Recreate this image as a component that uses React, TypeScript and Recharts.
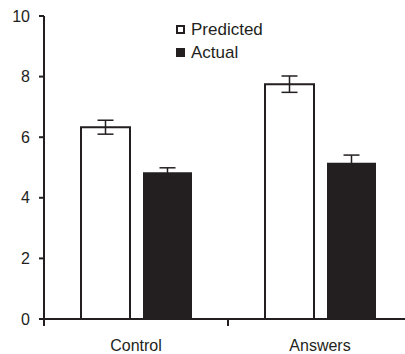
import { BarChart, Bar, XAxis, YAxis, ErrorBar, Legend } from "recharts"

const categories = ["Control", "Answers"]
const predicted = [6.33, 7.75]
const predictedErr = [0.23, 0.27]
const actual = [4.84, 5.16]
const actualErr = [0.15, 0.25]
const yTicks = [0, 2, 4, 6, 8, 10]

const INK = "#231f20"
const FONT = "'Liberation Sans', Arial, sans-serif"
const X_TICK_SIZE = 6
const X_TICK_MARGIN = 15

const data = categories.map((name, i) => ({
  name,
  predicted: predicted[i],
  predictedErr: predictedErr[i],
  actual: actual[i],
  actualErr: actualErr[i]
}))

// category label plus tick marks on the band edges (not the centres)
function CategoryTick(props: any) {
  const { x, y, payload, index, visibleTicksCount } = props
  const axisY = y - X_TICK_SIZE - X_TICK_MARGIN
  const half = payload.offset || 0
  const isLast = index === visibleTicksCount - 1
  return (
    <g>
      <line x1={x - half} x2={x - half} y1={axisY} y2={axisY + 7} stroke={INK} strokeWidth={2} />
      {isLast && (
        <line x1={x + half} x2={x + half} y1={axisY} y2={axisY + 7} stroke={INK} strokeWidth={2} />
      )}
      <text
        x={x}
        y={y}
        dy="0.71em"
        textAnchor="middle"
        fill={INK}
        fontSize={16}
        fontFamily={FONT}
      >
        {payload.value}
      </text>
    </g>
  )
}

function LegendBox() {
  const row = (filled: boolean, label: string) => (
    <div style={{ display: "flex", alignItems: "center", height: 23 }}>
      <span
        style={{
          width: 9,
          height: 9,
          boxSizing: "border-box",
          border: `2px solid ${INK}`,
          background: filled ? INK : "#fff",
          marginRight: 6
        }}
      />
      <span style={{ fontSize: 17, color: INK, fontFamily: FONT }}>{label}</span>
    </div>
  )
  return (
    <div>
      {row(false, "Predicted")}
      {row(true, "Actual")}
    </div>
  )
}

export default function App() {
  return (
    <div
      style={{
        position: "absolute",
        left: 0,
        top: 0,
        width: 405,
        height: 354,
        overflow: "hidden",
        background: "#fff"
      }}
    >
      <BarChart
        width={412}
        height={354}
        data={data}
        margin={{ top: 16, right: 0, bottom: 0, left: 0 }}
        barSize={49}
        barGap={13}
      >
        <XAxis
          dataKey="name"
          height={35}
          axisLine={{ stroke: INK, strokeWidth: 2 }}
          tickLine={false}
          tickSize={X_TICK_SIZE}
          tickMargin={X_TICK_MARGIN}
          tick={<CategoryTick />}
        />
        <YAxis
          width={44}
          domain={[0, 10]}
          ticks={yTicks}
          axisLine={{ stroke: INK, strokeWidth: 2 }}
          tickLine={{ stroke: INK, strokeWidth: 2 }}
          tickSize={5}
          tickMargin={9}
          tick={{ fill: INK, fontSize: 16, fontFamily: FONT }}
        />
        <Legend
          layout="vertical"
          align="center"
          verticalAlign="middle"
          content={() => <LegendBox />}
          wrapperStyle={{ left: 176, top: 18, width: 120 }}
        />
        <Bar
          dataKey="predicted"
          fill="#fff"
          stroke={INK}
          strokeWidth={2}
          isAnimationActive={false}
        >
          <ErrorBar dataKey="predictedErr" width={8} stroke={INK} strokeWidth={1.5} />
        </Bar>
        <Bar dataKey="actual" fill={INK} isAnimationActive={false}>
          <ErrorBar dataKey="actualErr" width={8} stroke={INK} strokeWidth={1.5} />
        </Bar>
      </BarChart>
    </div>
  )
}
